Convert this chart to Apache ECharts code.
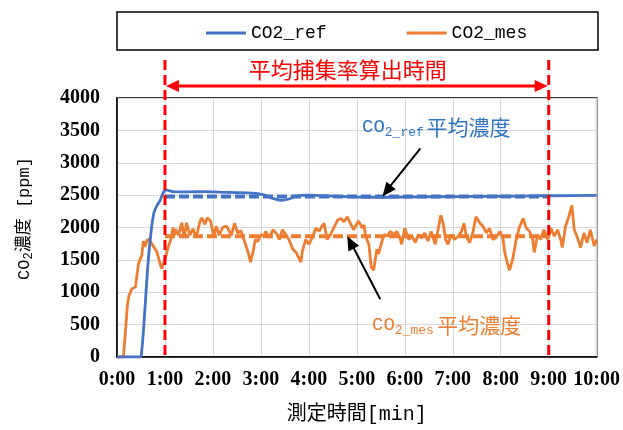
<!DOCTYPE html>
<html><head><meta charset="utf-8">
<script src="https://cdn.jsdelivr.net/npm/echarts@6/dist/echarts.min.js"></script>
<style>html,body{margin:0;padding:0;background:#fff}#c{width:623px;height:430px}</style>
</head><body><div id="c"></div>
<script>
// ---- data ----
const xTickLabels = ['0:00','1:00','2:00','3:00','4:00','5:00','6:00','7:00','8:00','9:00','10:00'];
const yTickLabels = ['0','500','1000','1500','2000','2500','3000','3500','4000'];
const seriesNames = ['CO2_ref', 'CO2_mes'];
const refTimes  = [0, 29, 31, 34, 38, 42, 46, 50, 54, 57, 61, 70, 90, 110, 130, 150, 170, 185, 195, 205, 215, 225, 238, 260, 280, 300, 330, 360, 400, 450, 500, 540, 600];
const refValues = [0, 0, 100, 565, 1315, 1865, 2215, 2340, 2420, 2515, 2580, 2555, 2550, 2555, 2545, 2540, 2530, 2500, 2450, 2420, 2440, 2490, 2500, 2490, 2480, 2470, 2465, 2470, 2475, 2480, 2485, 2490, 2495];
const mesTimes  = [0, 8, 10, 13, 15, 19, 23, 27, 31, 33, 35, 38, 42, 46, 50, 53, 56, 58, 61, 64, 67, 70, 72, 73, 77, 81, 84, 87, 91, 95, 99, 104, 106, 110, 113, 117, 121, 124, 128, 132, 137, 143, 147, 151, 155, 160, 164, 167, 170, 173, 176, 180, 184, 186, 191, 195, 199, 203, 207, 211, 215, 220, 224, 228, 230, 232, 236, 240, 244, 249, 253, 256, 259, 263, 267, 271, 276, 280, 284, 288, 292, 296, 302, 307, 309, 311, 315, 318, 321, 325, 327, 331, 334, 338, 342, 346, 350, 354, 356, 360, 365, 369, 373, 377, 381, 385, 389, 393, 398, 402, 405, 408, 411, 414, 418, 422, 427, 431, 434, 437, 441, 445, 449, 454, 458, 462, 466, 470, 474, 479, 483, 485, 488, 491, 495, 499, 503, 508, 512, 516, 520, 522, 526, 530, 534, 539, 543, 547, 551, 555, 557, 561, 565, 569, 572, 576, 580, 584, 588, 592, 597, 600];
const mesValues = [0, 0, 300, 800, 950, 1060, 1080, 1450, 1570, 1790, 1700, 1815, 1780, 1700, 1620, 1480, 1360, 1340, 1550, 1700, 1800, 2000, 1880, 1975, 1880, 2075, 1850, 2075, 1880, 1980, 1850, 2100, 2150, 2050, 2150, 2100, 1850, 2020, 1880, 2000, 2020, 1880, 2065, 1915, 1950, 1765, 1615, 1465, 1615, 1815, 1780, 1890, 1870, 1940, 1840, 1965, 1915, 1815, 1965, 1890, 1815, 1665, 1615, 1515, 1465, 1640, 1815, 1740, 1840, 1990, 1940, 2015, 2065, 1815, 1890, 1990, 2115, 2140, 2090, 2165, 2065, 1965, 2100, 1990, 2040, 1865, 1740, 1390, 1340, 1665, 1590, 1765, 1890, 1865, 1940, 1890, 1940, 1840, 1740, 1990, 1815, 1865, 1765, 1890, 1840, 1915, 1790, 1940, 1740, 1990, 2190, 2065, 1815, 1740, 1890, 1815, 1865, 1940, 2065, 1865, 1765, 1915, 2165, 2065, 2015, 1915, 1990, 1815, 1840, 1940, 1815, 1615, 1465, 1340, 1515, 1790, 1990, 2140, 1990, 1940, 1815, 1615, 1890, 1815, 1965, 1815, 1990, 1865, 1965, 1815, 1690, 2015, 2165, 2340, 1965, 1840, 1690, 1915, 1765, 1965, 1715, 1815];
const avgRange = [60, 540];     // 平均捕集率算出時間 (s)
const avgRef = 2480;
const avgMes = 1865;
const periodLabel = '平均捕集率算出時間';
const refNoteCjk = '平均濃度';
const mesNoteCjk = '平均濃度';
const refArrowTarget = [332, avgRef];
const mesArrowTarget = [288, avgMes];

// ---- chart ----
const BLUE = '#4472C4', ORANGE = '#ED7D31', RED = '#FF0000';
const GOTHIC = '"Liberation Mono", "Noto Sans CJK JP", monospace';
const CJK = '"Noto Sans CJK JP", sans-serif';
const SERIF = '"Liberation Serif", serif';

const chart = echarts.init(document.getElementById('c'), null, {renderer: 'canvas'});
const pairs = (ts, vs) => ts.map((t, i) => [t, vs[i]]);

chart.setOption({
  animation: false,
  backgroundColor: '#fff',
  grid: {left: 117, right: 25, top: 98, bottom: 68, show: true, borderColor: '#000', borderWidth: 1.5, backgroundColor: 'transparent'},
  legend: {
    data: seriesNames,
    left: 201, top: 17,
    itemWidth: 40, itemHeight: 3, itemGap: 80,
    icon: 'rect',
    textStyle: {fontFamily: GOTHIC, fontSize: 18, color: '#000', lineHeight: 22}
  },
  xAxis: {
    type: 'value', min: 0, max: 600, interval: 60,
    axisLine: {show: true, onZero: false, lineStyle: {color: '#000', width: 1.5}},
    axisTick: {show: false},
    splitLine: {show: true, lineStyle: {color: '#D9D9D9', width: 1}},
    axisLabel: {
      margin: 13, color: '#000', fontFamily: SERIF, fontWeight: 'bold', fontSize: 20,
      formatter: v => xTickLabels[Math.round(v / 60)]
    },
    name: '測定時間[min]', nameLocation: 'middle', nameGap: 48,
    nameTextStyle: {fontFamily: GOTHIC, fontSize: 20, color: '#000'}
  },
  yAxis: {
    type: 'value', min: 0, max: 4000, interval: 500,
    axisLine: {show: true, lineStyle: {color: '#000', width: 1.5}},
    axisTick: {show: false},
    splitLine: {show: true, lineStyle: {color: '#D9D9D9', width: 1}},
    axisLabel: {
      margin: 17, color: '#000', fontFamily: SERIF, fontWeight: 'bold', fontSize: 20,
      formatter: v => yTickLabels[Math.round(v / 500)]
    },
    name: '{a|CO}{s|2}{a|濃度 [ppm]}', nameLocation: 'middle', nameGap: 82, nameRotate: 90,
    nameTextStyle: {
      padding: [0, 0, 0, 18],
      rich: {
        a: {fontFamily: GOTHIC, fontSize: 17, color: '#000', lineHeight: 22},
        s: {fontFamily: GOTHIC, fontSize: 12, color: '#000', lineHeight: 22, verticalAlign: 'bottom', padding: [6, 0, 0, 0]}
      }
    }
  },
  series: [
    {
      name: 'avgRef', type: 'line', data: pairs(avgRange, [avgRef, avgRef]), symbol: 'none', silent: true,
      lineStyle: {color: BLUE, width: 4, type: [10, 4]}, z: 1
    },
    {
      name: 'avgMes', type: 'line', data: pairs(avgRange, [avgMes, avgMes]), symbol: 'none', silent: true,
      lineStyle: {color: ORANGE, width: 4, type: [10, 4]}, z: 1
    },
    {
      name: seriesNames[0], type: 'line', data: pairs(refTimes, refValues), symbol: 'none', smooth: 0.3,
      color: BLUE, lineStyle: {color: BLUE, width: 2.8}, z: 3
    },
    {
      name: seriesNames[1], type: 'line', data: pairs(mesTimes, mesValues), symbol: 'none',
      color: ORANGE, lineStyle: {color: ORANGE, width: 2.8}, z: 2
    }
  ]
});

function px(pt) { return chart.convertToPixel({gridIndex: 0}, pt); }
function arrowHead(tip, from, len, half, color) {
  const dx = tip[0] - from[0], dy = tip[1] - from[1];
  const L = Math.hypot(dx, dy), ux = dx / L, uy = dy / L;
  const bx = tip[0] - ux * len, by = tip[1] - uy * len;
  return {type: 'polygon', shape: {points: [tip, [bx - uy * half, by + ux * half], [bx + uy * half, by - ux * half]]},
    style: {fill: color}, z: 100};
}

const p1 = px([avgRange[0], 0]), p2 = px([avgRange[1], 0]);
const top0 = px([0, 4000])[1];
const bottom0 = p1[1];
const arrowY = top0 - 12;
const lineTop = top0 - 38;

const refTip = px(refArrowTarget);
const refTail = [refTip[0] + 38, refTip[1] - 48];
const mesTip = px(mesArrowTarget);
const mesTail = [mesTip[0] + 33, mesTip[1] + 63];

const g = [
  {type: 'rect', shape: {x: 117, y: 12, width: 481, height: 38}, style: {fill: 'none', stroke: '#000', lineWidth: 1.5}, z: 50},
  // red dashed vertical lines
  {type: 'line', shape: {x1: p1[0], y1: lineTop, x2: p1[0], y2: bottom0}, style: {stroke: RED, lineWidth: 3, lineDash: [10, 5]}, z: 90},
  {type: 'line', shape: {x1: p2[0], y1: lineTop, x2: p2[0], y2: bottom0}, style: {stroke: RED, lineWidth: 3, lineDash: [10, 5]}, z: 90},
  // red double arrow
  {type: 'line', shape: {x1: p1[0] + 10, y1: arrowY, x2: p2[0] - 10, y2: arrowY}, style: {stroke: RED, lineWidth: 3}, z: 90},
  arrowHead([p1[0] + 1, arrowY], [p2[0], arrowY], 13, 6, RED),
  arrowHead([p2[0] - 1, arrowY], [p1[0], arrowY], 13, 6, RED),
  {type: 'text', x: (p1[0] + p2[0]) / 2 - 9, y: arrowY - 16, style: {text: periodLabel, fill: RED, font: '22px ' + CJK, textAlign: 'center', textVerticalAlign: 'middle'}, z: 90},
  // annotation arrows
  {type: 'line', shape: {x1: refTail[0], y1: refTail[1], x2: refTip[0] + 6, y2: refTip[1] - 8}, style: {stroke: '#000', lineWidth: 2}, z: 100},
  arrowHead(refTip, refTail, 14, 6, '#000'),
  {type: 'line', shape: {x1: mesTail[0], y1: mesTail[1], x2: mesTip[0] + 5, y2: mesTip[1] + 9}, style: {stroke: '#000', lineWidth: 2}, z: 100},
  arrowHead(mesTip, mesTail, 14, 6, '#000'),
  // annotation texts
  {type: 'text', x: 362, y: 127, z: 100, style: {
    text: '{a|CO}{s|2_ref}{g| }{c|' + refNoteCjk + '}', textVerticalAlign: 'middle',
    rich: {
      a: {fontFamily: GOTHIC, fontSize: 19, fill: '#2E75C6', lineHeight: 24},
      s: {fontFamily: GOTHIC, fontSize: 13, fill: '#2E75C6', lineHeight: 24, verticalAlign: 'bottom', padding: [8, 0, 0, 0]},
      g: {fontSize: 10, lineHeight: 24},
      c: {fontFamily: CJK, fontSize: 21, fill: '#2E75C6', lineHeight: 24}
    }}},
  {type: 'text', x: 372, y: 325, z: 100, style: {
    text: '{a|CO}{s|2_mes}{g| }{c|' + mesNoteCjk + '}', textVerticalAlign: 'middle',
    rich: {
      a: {fontFamily: GOTHIC, fontSize: 19, fill: ORANGE, lineHeight: 24},
      s: {fontFamily: GOTHIC, fontSize: 13, fill: ORANGE, lineHeight: 24, verticalAlign: 'bottom', padding: [8, 0, 0, 0]},
      g: {fontSize: 12, lineHeight: 24},
      c: {fontFamily: CJK, fontSize: 21, fill: ORANGE, lineHeight: 24}
    }}}
];
chart.setOption({graphic: g});
</script>
</body></html>
